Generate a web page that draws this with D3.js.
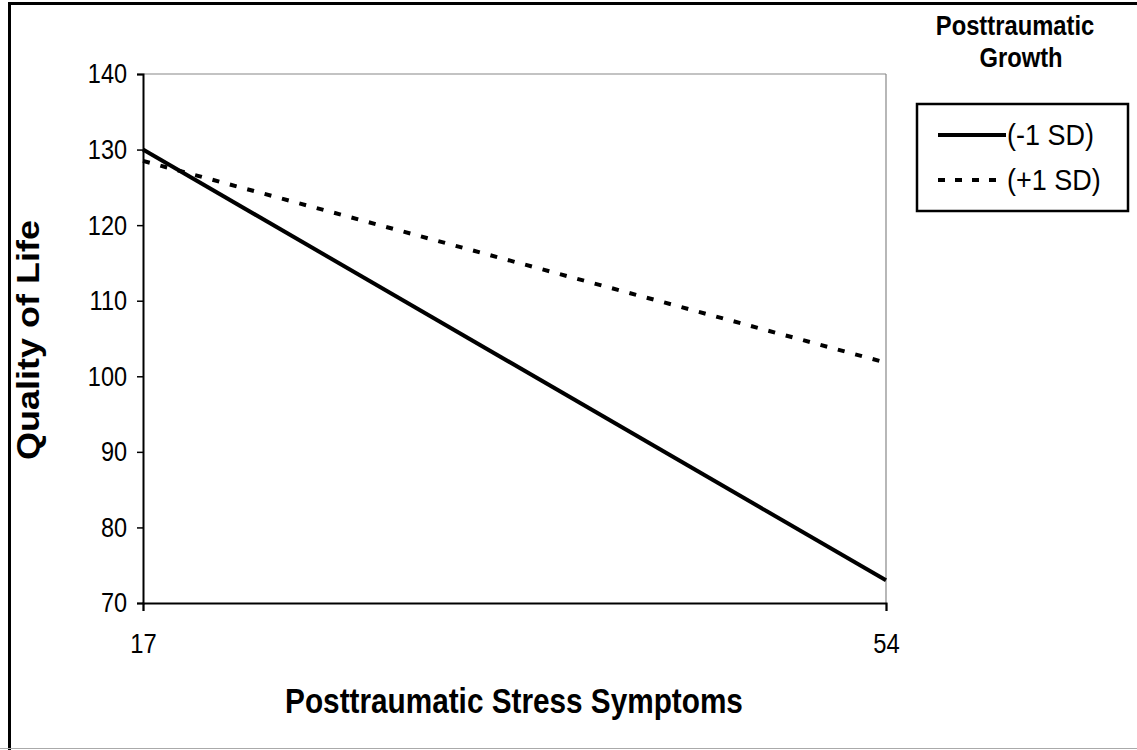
<!DOCTYPE html>
<html>
<head>
<meta charset="utf-8">
<script src="https://cdn.jsdelivr.net/npm/d3@7"></script>
<style>
  body { margin: 0; background: #fff; }
  text { font-family: "Liberation Sans", Arial, sans-serif; fill: #000; }
</style>
</head>
<body>
<svg></svg>
<script>
// data
const xTicks = [17, 54];
const yTicks = [70, 80, 90, 100, 110, 120, 130, 140];
const seriesNames = ["(-1 SD)", "(+1 SD)"];
const lowGrowth = [130, 73];
const highGrowth = [128.5, 101.8];
const legendTitle = ["Posttraumatic", "Growth"];

const w = 1137, h = 750;
const svg = d3.select("svg").attr("width", w).attr("height", h);

// page frame
svg.append("line").attr("x1", 8).attr("x2", w).attr("y1", 3.5).attr("y2", 3.5)
  .attr("stroke", "#000").attr("stroke-width", 3);
svg.append("line").attr("x1", 9.5).attr("x2", 9.5).attr("y1", 2).attr("y2", h)
  .attr("stroke", "#000").attr("stroke-width", 3);
svg.append("line").attr("x1", 0).attr("x2", w).attr("y1", 748.5).attr("y2", 748.5)
  .attr("stroke", "#aaa").attr("stroke-width", 1);

var x = d3.scaleLinear().domain([17, 54]).range([143, 886]);
var y = d3.scaleLinear().domain([70, 140]).range([603, 74]);

// grey plot border top + right
svg.append("line").attr("x1", x(17)).attr("x2", x(54)).attr("y1", y(140)).attr("y2", y(140))
  .attr("stroke", "#888").attr("stroke-width", 1.2);
svg.append("line").attr("x1", x(54)).attr("x2", x(54)).attr("y1", y(140)).attr("y2", y(70))
  .attr("stroke", "#888").attr("stroke-width", 1.2);

// axes
var yAxis = svg.append("g").attr("transform", "translate(" + x(17) + ",0)")
  .call(d3.axisLeft(y).tickValues(yTicks).tickSize(6).tickPadding(13).tickFormat(d3.format("d")));
var xAxis = svg.append("g").attr("transform", "translate(0," + y(70) + ")")
  .call(d3.axisBottom(x).tickValues(xTicks).tickSize(8).tickPadding(22).tickFormat(d3.format("d")));

[yAxis, xAxis].forEach(function(a) {
  a.attr("font-family", null).attr("font-size", null);
  a.select(".domain").attr("stroke", "#000").attr("stroke-width", 2);
  a.selectAll(".tick line").attr("stroke", "#000").attr("stroke-width", 1.5);
  a.selectAll("text").style("font-size", "28px");
});
yAxis.selectAll("text").attr("transform", "scale(0.84,1)");
xAxis.selectAll("text").attr("transform", "scale(0.85,1)");

// lines
var line = d3.line().x((d, i) => x(xTicks[i])).y(d => y(d));
svg.append("path").datum(lowGrowth).attr("d", line)
  .attr("fill", "none").attr("stroke", "#000").attr("stroke-width", 4);
svg.append("path").datum(highGrowth).attr("d", line)
  .attr("fill", "none").attr("stroke", "#000").attr("stroke-width", 4)
  .attr("stroke-dasharray", "7,11");

// axis titles
svg.append("text").text("Posttraumatic Stress Symptoms")
  .attr("transform", "translate(514,713) scale(0.85,1)")
  .attr("text-anchor", "middle").attr("font-weight", "bold").attr("font-size", 35);
svg.append("text").text("Quality of Life")
  .attr("transform", "translate(39,340) rotate(-90) scale(1,0.85)")
  .attr("text-anchor", "middle").attr("font-weight", "bold").attr("font-size", 36);

// legend
svg.append("text").text(legendTitle[0])
  .attr("transform", "translate(1015,35) scale(0.88,1)")
  .attr("text-anchor", "middle").attr("font-weight", "bold").attr("font-size", 27);
svg.append("text").text(legendTitle[1])
  .attr("transform", "translate(1021,67) scale(0.88,1)")
  .attr("text-anchor", "middle").attr("font-weight", "bold").attr("font-size", 27);

svg.append("rect").attr("x", 917).attr("y", 104).attr("width", 211).attr("height", 107)
  .attr("fill", "none").attr("stroke", "#000").attr("stroke-width", 2.5);

var leg = svg.selectAll(".leg").data(seriesNames).enter().append("g")
  .attr("transform", (d, i) => "translate(938," + (135 + i * 45) + ")");
leg.append("line").attr("x1", 0).attr("x2", 68).attr("y1", 0).attr("y2", 0)
  .attr("stroke", "#000").attr("stroke-width", 4)
  .attr("stroke-dasharray", (d, i) => i === 1 ? "7,10" : null);
leg.append("text").text(d => d).attr("transform", "translate(69,0) scale(0.93,1)")
  .attr("dy", "0.35em").attr("font-size", 29);
</script>
</body>
</html>
